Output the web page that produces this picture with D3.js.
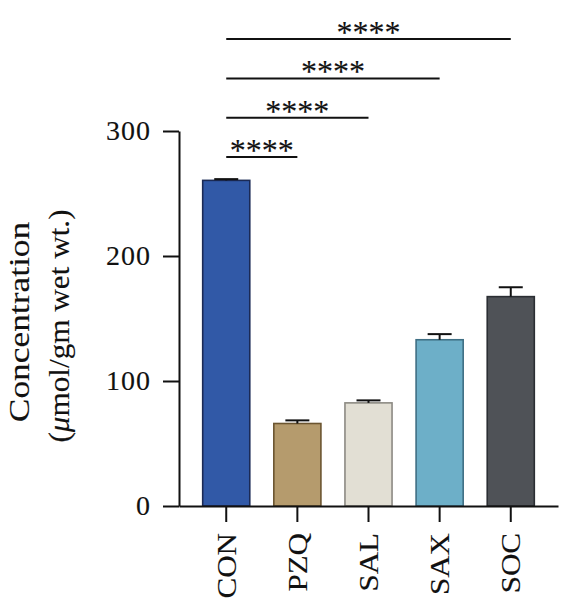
<!DOCTYPE html>
<html>
<head>
<meta charset="utf-8">
<script src="https://cdn.jsdelivr.net/npm/d3@7"></script>
<style>
  body { margin: 0; background: #fff; }
  svg { display: block; }
  text { stroke: #111; stroke-width: 0.12px; }
</style>
</head>
<body>
<div id="chart"></div>
<script>
// data
var groups = ["CON", "PZQ", "SAL", "SAX", "SOC"];
var means = [260.5, 66, 82.5, 133, 167.5];
var errors = [1, 2.5, 2, 4.5, 7.5];
var fills = ["#3159a7", "#b59b6d", "#e2dfd4", "#6dafc8", "#4f5257"];
var strokes = ["#1b2a55", "#6b5530", "#8c8a83", "#3f6f84", "#2b2e33"];
var yTicks = [0, 100, 200, 300];
var compFrom = ["CON", "CON", "CON", "CON"];
var compTo = ["PZQ", "SAL", "SAX", "SOC"];
var compStars = ["****", "****", "****", "****"];

var w = 561;
var h = 604;
var font = "'Liberation Serif', 'Times New Roman', serif";
var ink = "#111";

var svg = d3.select("#chart")
  .append("svg")
  .attr("width", w)
  .attr("height", h);

var xScale = d3.scaleBand()
  .domain(groups)
  .range([179, 558])
  .paddingInner(0.338)
  .paddingOuter(0.333);

var yScale = d3.scaleLinear()
  .domain([0, 300])
  .range([506, 131]);

var bw = xScale.bandwidth();
var stretch = 1.15;

// bars
var data = groups.map(function(g, i) {
  return { group: g, mean: means[i], err: errors[i], fill: fills[i], stroke: strokes[i] };
});

svg.selectAll("rect.bar")
  .data(data)
  .enter()
  .append("rect")
  .attr("class", "bar")
  .attr("x", function(d) { return xScale(d.group); })
  .attr("y", function(d) { return yScale(d.mean); })
  .attr("width", bw)
  .attr("height", function(d) { return yScale(0) - yScale(d.mean); })
  .attr("fill", function(d) { return d.fill; })
  .attr("stroke", function(d) { return d.stroke; })
  .attr("stroke-width", 1.6);

// error bars (upper only)
var eb = svg.selectAll("g.err")
  .data(data)
  .enter()
  .append("g")
  .attr("class", "err")
  .attr("stroke", ink)
  .attr("stroke-width", 2);

eb.append("line")
  .attr("x1", function(d) { return xScale(d.group) + bw / 2; })
  .attr("x2", function(d) { return xScale(d.group) + bw / 2; })
  .attr("y1", function(d) { return yScale(d.mean); })
  .attr("y2", function(d) { return yScale(d.mean + d.err); });

eb.append("line")
  .attr("x1", function(d) { return xScale(d.group) + bw / 2 - 12; })
  .attr("x2", function(d) { return xScale(d.group) + bw / 2 + 12; })
  .attr("y1", function(d) { return yScale(d.mean + d.err); })
  .attr("y2", function(d) { return yScale(d.mean + d.err); });

// y axis
svg.append("g")
  .attr("transform", "translate(179,0)")
  .call(d3.axisLeft(yScale).tickValues(yTicks).tickSize(16).tickSizeOuter(0).tickPadding(12))
  .call(function(g) {
    g.select(".domain").attr("stroke", ink).attr("stroke-width", 2);
    g.selectAll(".tick line").attr("stroke", ink).attr("stroke-width", 2);
    g.selectAll(".tick text")
      .attr("font-family", font)
      .attr("font-size", 28)
      .attr("letter-spacing", "1px")
      .attr("fill", ink);
  });

// x axis
svg.append("g")
  .attr("transform", "translate(0," + yScale(0) + ")")
  .call(d3.axisBottom(xScale).tickSize(16).tickSizeOuter(0))
  .call(function(g) {
    g.select(".domain").attr("stroke", ink).attr("stroke-width", 2);
    g.selectAll(".tick line").attr("stroke", ink).attr("stroke-width", 2);
    g.selectAll(".tick text")
      .attr("font-family", font)
      .attr("font-size", 27)
      .attr("fill", ink)
      .attr("text-anchor", "end")
      .attr("transform", "rotate(-90) scale(" + stretch + ",1)")
      .attr("x", -27 / stretch)
      .attr("y", 0)
      .attr("dy", "0.35em");
  });

// significance brackets
compTo.forEach(function(to, i) {
  var x1 = xScale(compFrom[i]) + bw / 2;
  var x2 = xScale(to) + bw / 2;
  var ly = 157 - i * 39.3;
  svg.append("line")
    .attr("x1", x1)
    .attr("x2", x2)
    .attr("y1", ly)
    .attr("y2", ly)
    .attr("stroke", ink)
    .attr("stroke-width", 2);
  svg.append("text")
    .text(compStars[i])
    .attr("x", (x1 + x2) / 2)
    .attr("y", ly + 4)
    .attr("text-anchor", "middle")
    .attr("font-family", font)
    .attr("font-size", 32)
    .attr("fill", ink);
});

// y axis title
svg.append("text")
  .text("Concentration")
  .attr("transform", "translate(28.5,322) rotate(-90) scale(1.18,1)")
  .attr("text-anchor", "middle")
  .attr("font-family", font)
  .attr("font-size", 30)
  .attr("fill", ink);

var t2 = svg.append("text")
  .attr("transform", "translate(69,326) rotate(-90) scale(1.04,1)")
  .attr("text-anchor", "middle")
  .attr("font-family", font)
  .attr("font-size", 30)
  .attr("fill", ink);
t2.append("tspan").text("(");
t2.append("tspan").attr("font-style", "italic").text("\u03bc");
t2.append("tspan").text("mol/gm wet wt.)");
</script>
</body>
</html>
